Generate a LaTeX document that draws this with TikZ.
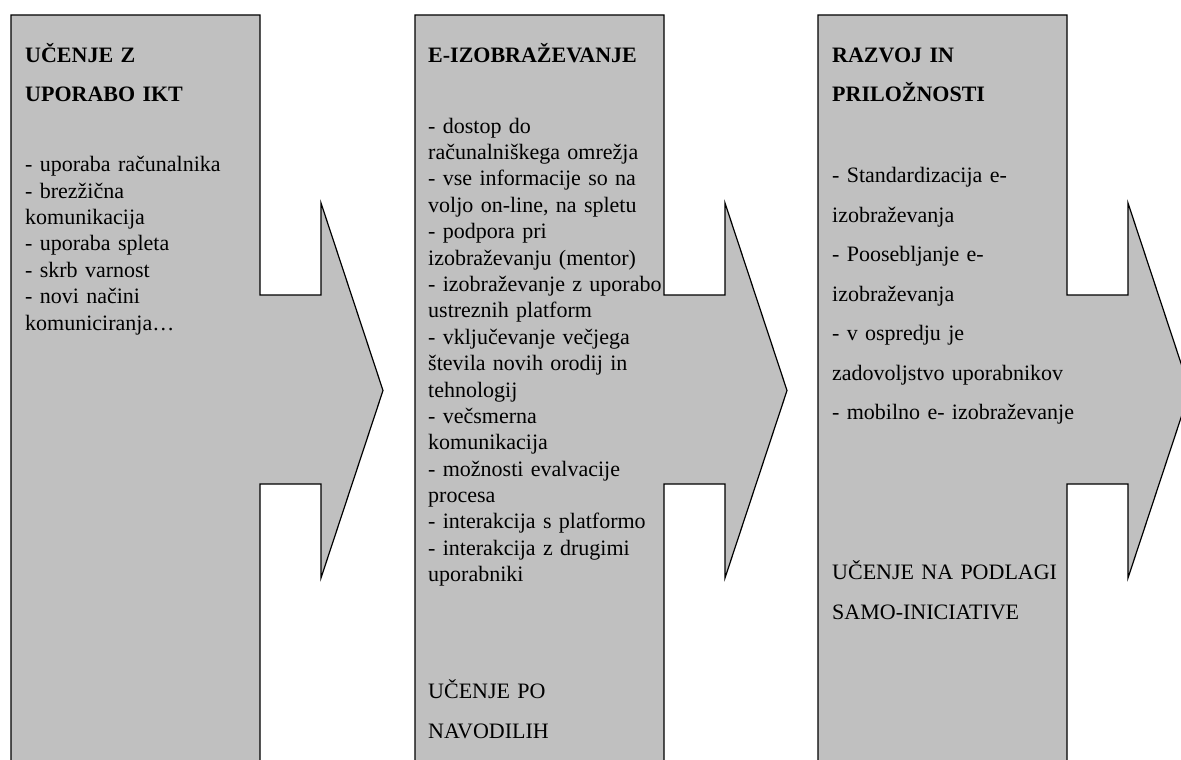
\documentclass[tikz,border=0pt]{standalone}
\usepackage{fontspec}
\setmainfont{Liberation Serif}
\definecolor{stagegray}{RGB}{192,192,192}
\begin{document}
\begin{tikzpicture}[x=1pt,y=-1pt,
  stagefill/.style={fill=stagegray, draw=black, line width=1.2pt, line join=miter},
  textblock/.style={anchor=base west, inner sep=0pt, text width=330pt, align=left},
  headtext/.style={textblock, font=\fontsize{22}{39}\selectfont\bfseries},
  listtext/.style={textblock, font=\fontsize{22}{26.4}\selectfont},
  widelist/.style={textblock, font=\fontsize{22}{39.5}\selectfont},
  foottext/.style={textblock, font=\fontsize{22}{40}\selectfont},
  stagearrow/.pic={
    \draw[stagefill] (0,0) -- (249,0) -- (249,280) -- (310,280) -- (310,188)
      -- (372,375.5) -- (310,563) -- (310,469) -- (249,469) -- (249,780)
      -- (0,780) -- cycle;
  }]
\useasboundingbox (0,0) rectangle (1181,760);
\clip (0,0) rectangle (1181,760);

% the three stage arrows
\pic at (11,15)  {stagearrow};
\pic at (415,15) {stagearrow};
\pic at (818,15) {stagearrow};

% stage 1
\node[headtext] (h1) at (25,63) {UČENJE Z\\UPORABO IKT};
\node[listtext] (l1) at (25,171.7) {- uporaba računalnika\\- brezžična\\komunikacija\\- uporaba spleta\\- skrb varnost\\- novi načini\\komuniciranja…};

% stage 2
\node[headtext] (h2) at (428,63) {E-IZOBRAŽEVANJE};
\node[listtext] (l2) at (428,133) {- dostop do\\računalniškega omrežja\\- vse informacije so na\\voljo on-line, na spletu\\- podpora pri\\izobraževanju (mentor)\\- izobraževanje z uporabo\\ustreznih platform\\- vključevanje večjega\\števila novih orodij in\\tehnologij\\- večsmerna\\komunikacija\\- možnosti evalvacije\\procesa\\- interakcija s platformo\\- interakcija z drugimi\\uporabniki};
\node[foottext] (f2) at (428,698) {UČENJE PO\\NAVODILIH};

% stage 3
\node[headtext] (h3) at (832,63) {RAZVOJ IN\\PRILOŽNOSTI};
\node[widelist] (l3) at (832,182.7) {- Standardizacija e-\\izobraževanja\\- Poosebljanje e-\\izobraževanja\\- v ospredju je\\zadovoljstvo uporabnikov\\- mobilno e- izobraževanje};
\node[foottext] (f3) at (832,579) {UČENJE NA PODLAGI\\SAMO-INICIATIVE};
\end{tikzpicture}
\end{document}
